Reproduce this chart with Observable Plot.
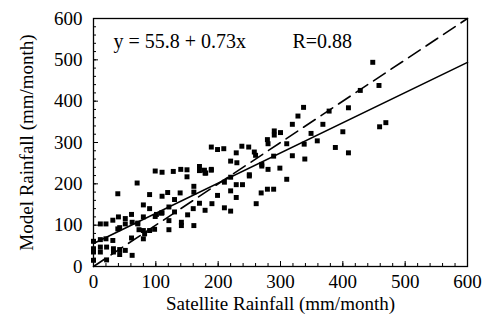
<!DOCTYPE html>
<html>
<head>
<meta charset="utf-8">
<script src="https://cdn.jsdelivr.net/npm/d3@7"></script>
<script src="https://cdn.jsdelivr.net/npm/@observablehq/plot@0.6"></script>
<style>
  html, body { margin: 0; padding: 0; background: #fff; }
  #chart svg { display: block; }
</style>
</head>
<body>
<div id="chart"></div>
<script>
// Satellite rainfall (x) and model rainfall (y), mm/month
const satellite = [
  448,458,428,459,469,409,378,337,328,319,368,349,400,359,338,388,409,339,319,310,300,310,299,
  290,290,279,280,289,280,270,258,260,249,238,229,220,250,239,229,220,210,220,229,269,279,289,261,
  220,210,199,209,189,189,178,199,190,179,
  180,170,170,150,140,128,150,161,161,170,160,151,161,141,141,139,
  130,119,110,110,99,121,109,101,110,130,121,121,99,90,90,80,70,80,71,90,80,82,80,
  62,61,51,61,51,39,40,39,31,20,11,31,20,11,0,0,0,11,11,21,32,32,42,42,51,62,0,21,98,73,71,42,
  189,179,230,270,250
];
const model = [
  494,438,426,338,348,384,376,385,364,344,344,322,326,304,296,288,275,260,268,297,324,211,238,
  328,318,307,297,267,235,247,277,269,289,291,275,255,219,198,198,216,204,183,167,178,187,187,152,
  134,142,283,285,289,235,233,172,152,136,
  226,242,232,234,235,230,217,194,180,153,140,125,99,107,99,178,
  162,179,170,228,231,144,129,126,130,132,111,89,121,140,174,149,202,120,103,87,87,79,67,
  107,126,116,69,103,176,120,91,112,103,103,63,67,65,61,43,35,47,35,47,43,35,41,29,39,27,15,16,90,89,105,94,
  233,226,251,243,222
];
const xMajorTicks = [0, 100, 200, 300, 400, 500, 600];
const yMajorTicks = [0, 100, 200, 300, 400, 500, 600];
const minorTicks = d3.range(0, 601, 20);
const fitIntercept = 55.8;
const fitSlope = 0.73;
const fitLabel = "y = 55.8 + 0.73x";
const corrLabel = "R=0.88";
const xTitle = "Satellite Rainfall (mm/month)";
const yTitle = "Model Rainfall (mm/month)";

const points = satellite.map((x, i) => ({x, y: model[i]}));
const span = [0, 600];
const fitLine = span.map(x => ({x, y: fitIntercept + fitSlope * x}));
const oneToOne = span.map(x => ({x, y: x}));

const chart = Plot.plot({
  width: 487,
  height: 329,
  marginLeft: 93,
  marginRight: 20,
  marginTop: 18,
  marginBottom: 63,
  style: {fontFamily: "'Liberation Serif', 'Times New Roman', serif", fontSize: "19px", color: "#000", background: "#fff"},
  x: {domain: [0, 600]},
  y: {domain: [0, 600]},
  marks: [
    Plot.frame({stroke: "#000", strokeWidth: 1.3}),
    Plot.axisX(minorTicks, {tickSize: -3, tickFormat: () => "", label: null}),
    Plot.axisY(minorTicks, {tickSize: -3, tickFormat: () => "", label: null}),
    Plot.axisX(xMajorTicks, {tickSize: -5, tickPadding: 13, fontSize: 19,
      label: xTitle, labelAnchor: "center", labelArrow: "none", labelOffset: 43}),
    Plot.axisY(yMajorTicks, {tickSize: -5, tickPadding: 16, fontSize: 19,
      label: yTitle, labelAnchor: "center", labelArrow: "none", labelOffset: 74}),
    Plot.line(oneToOne, {x: "x", y: "y", stroke: "#000", strokeWidth: 1.6, strokeDasharray: "14,7"}),
    Plot.line(fitLine, {x: "x", y: "y", stroke: "#000", strokeWidth: 1.6}),
    Plot.dot(points, {x: "x", y: "y", symbol: "square", r: 2.8, fill: "#000", stroke: null}),
    Plot.text([fitLabel], {frameAnchor: "top-left", dx: 20, dy: 23, textAnchor: "start", lineAnchor: "middle", fontSize: 20, fill: "#000"}),
    Plot.text([corrLabel], {frameAnchor: "top-left", dx: 199, dy: 23, textAnchor: "start", lineAnchor: "middle", fontSize: 20, fill: "#000"})
  ]
});
document.getElementById("chart").appendChild(chart);
</script>
</body>
</html>
